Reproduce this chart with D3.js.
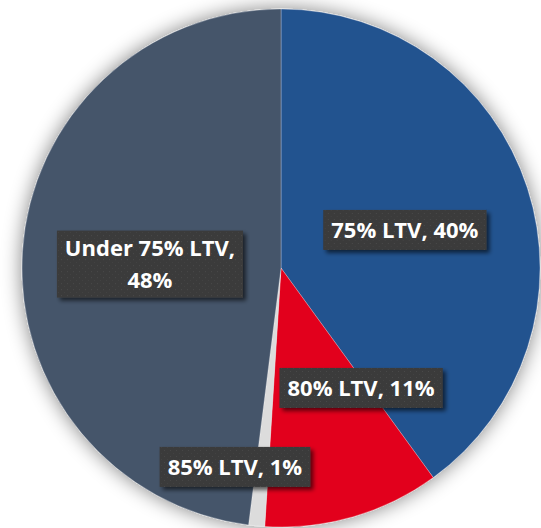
<!DOCTYPE html>
<html>
<head>
<meta charset="utf-8">
<script src="https://cdn.jsdelivr.net/npm/d3@7/dist/d3.min.js"></script>
<style>
html,body{margin:0;padding:0;background:#fff;}
svg{display:block;}
</style>
</head>
<body>
<svg id="chart" width="541" height="528"></svg>
<script>
// Data
const categories = ["75% LTV", "80% LTV", "85% LTV", "Under 75% LTV"];
const shares = [40, 11, 1, 48];
const labelLines = [["75% LTV, 40%"], ["80% LTV, 11%"], ["85% LTV, 1%"], ["Under 75% LTV,", "48%"]];
const colors = ["#23528f", "#e2001a", "#dcdcdc", "#44546a"];

// Layout
const W = 541, H = 528;
const cx = 281, cy = 268, R = 259;
// label centre offsets relative to pie centre, as fractions of radius
const labelPos = [[0.478, -0.147], [0.309, 0.463], [-0.178, 0.768], [-0.506, -0.015]];

const svg = d3.select("#chart");
const defs = svg.append("defs");

const glow = defs.append("filter").attr("id", "glow").attr("x", "-20%").attr("y", "-20%").attr("width", "140%").attr("height", "140%");
glow.append("feGaussianBlur").attr("in", "SourceAlpha").attr("stdDeviation", 10).attr("result", "b");
glow.append("feComponentTransfer").attr("in", "b").attr("result", "bb")
  .append("feFuncA").attr("type", "linear").attr("slope", 0.5);
const gm = glow.append("feMerge");
gm.append("feMergeNode").attr("in", "bb");
gm.append("feMergeNode").attr("in", "SourceGraphic");

const shadow = defs.append("filter").attr("id", "lblshadow").attr("x", "-20%").attr("y", "-40%").attr("width", "150%").attr("height", "200%");
shadow.append("feGaussianBlur").attr("in", "SourceAlpha").attr("stdDeviation", 2.2).attr("result", "b");
shadow.append("feOffset").attr("in", "b").attr("dx", 3).attr("dy", 3).attr("result", "o");
shadow.append("feComponentTransfer").attr("in", "o").attr("result", "oo")
  .append("feFuncA").attr("type", "linear").attr("slope", 0.6);
const sm = shadow.append("feMerge");
sm.append("feMergeNode").attr("in", "oo");
sm.append("feMergeNode").attr("in", "SourceGraphic");

const pat = defs.append("pattern").attr("id", "dots").attr("patternUnits", "userSpaceOnUse").attr("width", 6).attr("height", 6);
pat.append("rect").attr("width", 6).attr("height", 6).attr("fill", "#3a3a3a");
pat.append("rect").attr("x", 1).attr("y", 1).attr("width", 1).attr("height", 1).attr("fill", "#4a4a4a");
pat.append("rect").attr("x", 4).attr("y", 4).attr("width", 1).attr("height", 1).attr("fill", "#444");

const pie = d3.pie().value(d => d).sort(null);
const arc = d3.arc().innerRadius(0).outerRadius(R);
const arcs = pie(shares);

const g = svg.append("g").attr("transform", `translate(${cx},${cy})`);
g.append("g").attr("filter", "url(#glow)")
  .selectAll("path").data(arcs).join("path")
  .attr("d", arc)
  .attr("fill", (d, i) => colors[i])
  .attr("stroke", "rgba(255,255,255,0.35)")
  .attr("stroke-width", 0.8);

const fontSize = 22;
const lineH = 32;
const lbl = g.selectAll("g.lbl").data(arcs).join("g").attr("class", "lbl")
  .attr("transform", (d, i) => `translate(${labelPos[i][0] * R},${labelPos[i][1] * R})`);

lbl.each(function (d, i) {
  const sel = d3.select(this);
  const lines = labelLines[i];
  const rect = sel.append("rect").attr("fill", "url(#dots)").attr("filter", "url(#lblshadow)");
  const t = sel.append("text")
    .attr("text-anchor", "middle")
    .attr("fill", "#ffffff")
    .attr("font-family", "'Open Sans', 'Noto Sans', sans-serif")
    .attr("font-weight", "bold")
    .attr("font-size", fontSize);
  lines.forEach((ln, k) => {
    t.append("tspan").attr("x", 0)
      .attr("y", (k - (lines.length - 1) / 2) * lineH)
      .attr("dy", "0.36em")
      .text(ln);
  });
  const bb = t.node().getBBox();
  const padX = 8;
  const h = lines.length === 1 ? 40 : 67;
  rect.attr("x", bb.x - padX).attr("width", bb.width + 2 * padX)
    .attr("y", -h / 2).attr("height", h);
});
</script>
</body>
</html>
